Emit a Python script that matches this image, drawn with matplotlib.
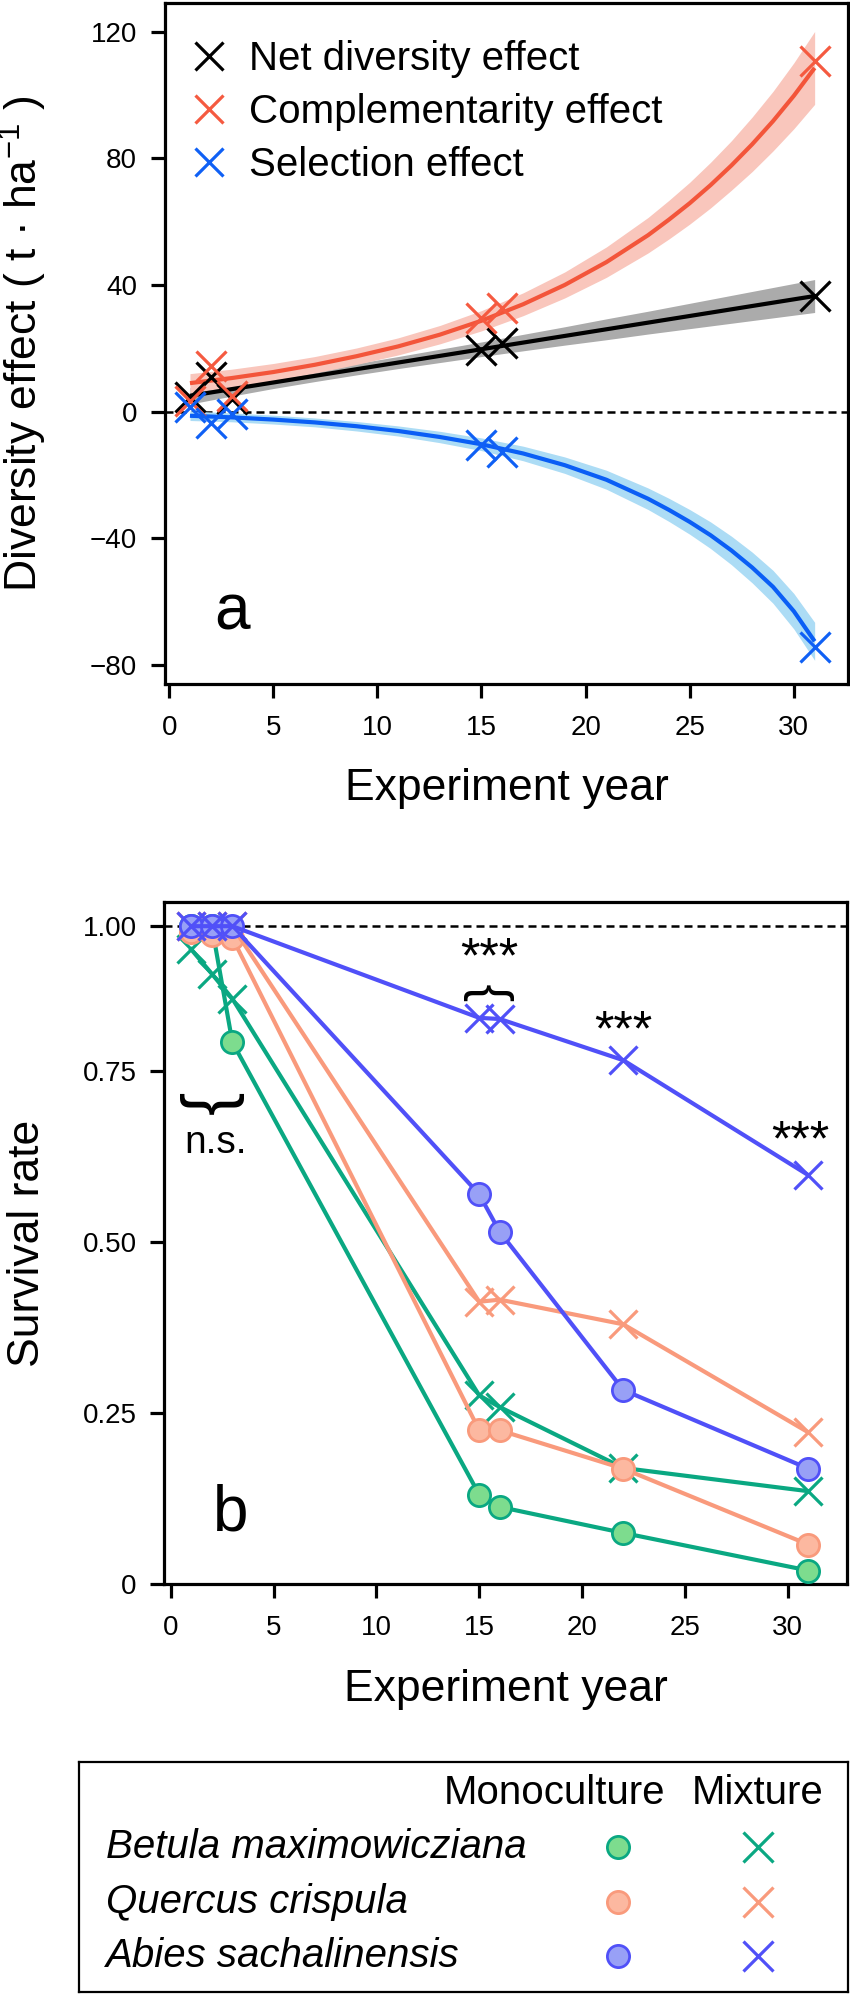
import numpy as np
import matplotlib.pyplot as plt
from matplotlib.lines import Line2D

plt.rcParams['font.family'] = ['Liberation Sans', 'DejaVu Sans']
plt.rcParams['mathtext.fontset'] = 'custom'
plt.rcParams['mathtext.rm'] = 'Liberation Sans'
plt.rcParams['mathtext.it'] = 'Liberation Sans:italic'

# ---- panel a: diversity effects (t/ha) ----
years_a = [1, 2, 3, 15, 16, 31]
net_pts = [4.5, 11.0, 4.0, 19.5, 21.6, 36.4]
comp_pts = [3.5, 14.5, 4.8, 29.5, 32.8, 110.7]
sel_pts = [1.5, -3.6, -0.9, -10.5, -12.7, -74.3]

# fitted curves and half-widths of the confidence bands
fit_years = [1, 3, 5, 7, 9, 11, 13, 15, 17, 19, 21, 23, 24, 25, 26, 27, 28, 29, 30, 31]
net_fit = [5.0, 7.1, 9.2, 11.3, 13.4, 15.5, 17.6, 19.7, 21.8, 23.9, 26.0, 28.1,
           29.15, 30.2, 31.25, 32.3, 33.35, 34.4, 35.45, 36.5]
net_half = [2.6, 2.2, 1.9, 1.8, 1.8, 1.9, 2.1, 2.3, 2.6, 2.9, 3.3, 3.6,
            3.8, 4.0, 4.2, 4.4, 4.6, 4.8, 5.0, 5.2]
comp_fit = [9.0, 10.6, 12.5, 14.8, 17.5, 20.6, 24.3, 28.7, 33.9, 40.0, 47.2, 55.7,
            60.6, 65.8, 71.5, 77.7, 84.4, 91.7, 99.7, 108.5]
comp_half = [3.0, 2.8, 2.7, 2.6, 2.6, 2.7, 2.9, 3.2, 3.6, 4.1, 4.8, 5.6,
             6.1, 6.6, 7.2, 7.8, 8.6, 9.4, 10.4, 11.5]
sel_fit = [-1.3, -1.8, -2.5, -3.4, -4.6, -6.1, -8.0, -10.3, -13.2, -16.9, -21.5, -27.5,
           -31.0, -34.8, -39.0, -43.8, -49.2, -55.3, -63.0, -72.5]
sel_half = [1.5, 1.4, 1.4, 1.4, 1.5, 1.6, 1.8, 2.0, 2.3, 2.6, 3.0, 3.4,
            3.65, 3.9, 4.2, 4.5, 4.85, 5.2, 5.6, 6.0]

effect_names = ['Net diversity effect', 'Complementarity effect', 'Selection effect']

# ---- panel b: survival rate ----
years_b = [1, 2, 3, 15, 16, 22, 31]
betula_mono = [1.0, 1.0, 0.80, 0.131, 0.113, 0.075, 0.020]
betula_mix = [0.96, 0.918, 0.875, 0.276, 0.259, 0.170, 0.136]
quercus_mono = [0.99, 0.985, 0.98, 0.225, 0.225, 0.169, 0.058]
quercus_mix = [1.0, 1.0, 1.0, 0.413, 0.416, 0.380, 0.222]
abies_mono = [1.0, 1.0, 1.0, 0.570, 0.515, 0.284, 0.169]
abies_mix = [1.0, 1.0, 1.0, 0.842, 0.840, 0.769, 0.598]

species = ['Betula maximowicziana', 'Quercus crispula', 'Abies sachalinensis']
line_cols = ['#0aa882', '#f99a7c', '#5050f8']
fill_cols = ['#7ddc8e', '#fcb8a0', '#98a0f6']

TICK = 20
LAB = 32
DASH = (0, (3.2, 2.0))

fig = plt.figure(figsize=(8.5, 19.95), dpi=100)


def style_axes(ax):
    for s in ax.spines.values():
        s.set_linewidth(2.3)
    ax.tick_params(direction='out', length=10, width=2.3, labelsize=TICK,
                   top=False, right=False)
    ax.tick_params(axis='x', pad=12)
    ax.tick_params(axis='y', pad=10)
    ax.set_xticks([0, 5, 10, 15, 20, 25, 30])


# ================= panel a =================
ax = fig.add_axes([0.1941, 0.6571, 0.8035, 0.3414])
style_axes(ax)
ax.axhline(0, color='black', lw=1.8, ls=DASH, zorder=1)

fy = np.array(fit_years)
bands = [(net_fit, net_half, '#ababab', 'black'),
         (comp_fit, comp_half, '#f9c6bc', '#f3553a'),
         (sel_fit, sel_half, '#acdcf5', '#0a5ef5')]
for fit, half, band_c, line_c in bands:
    fit = np.array(fit)
    half = np.array(half)
    ax.fill_between(fy, fit - half, fit + half, color=band_c, lw=0, zorder=2)
for fit, half, band_c, line_c in bands:
    ax.plot(fy, fit, color=line_c, lw=3.0, zorder=3, solid_capstyle='butt')

pt_cols = ['black', '#f55a40', '#0f60f5']
for vals, c in zip([net_pts, comp_pts, sel_pts], pt_cols):
    ax.plot(years_a, vals, ls='none', marker='x', ms=21, mew=2.3, color=c, zorder=4)

handles = [Line2D([], [], ls='none', marker='x', ms=20, mew=2.3, color=c) for c in pt_cols]
ax.legend(handles, effect_names, loc='upper left', bbox_to_anchor=(0.035, 0.945),
          frameon=False, fontsize=29, handlelength=1.0, handletextpad=0.5,
          labelspacing=0.37, borderpad=0, borderaxespad=0)

ax.text(3.0, -68.7, 'a', fontsize=46, ha='center', va='baseline')

ax.set_xlim(-0.2, 32.6)
ax.set_ylim(-86, 129)
ax.set_yticks([-80, -40, 0, 40, 80, 120])
ax.set_xlabel('Experiment year', fontsize=LAB, va='top')
ax.xaxis.set_label_coords(0.5, -0.123)
ax.set_ylabel('Diversity effect ( t · ha$^{-1}$ )', fontsize=LAB)
ax.yaxis.set_label_coords(-0.17, 0.5)

# ================= panel b =================
K = 0.848  # the 0.75-1.00 interval is drawn compressed in the original


def fwd(y):
    y = np.asarray(y, dtype=float)
    return np.where(y <= 0.75, y, 0.75 + (y - 0.75) * K)


def inv(z):
    z = np.asarray(z, dtype=float)
    return np.where(z <= 0.75, z, 0.75 + (z - 0.75) / K)


bx = fig.add_axes([0.1935, 0.2059, 0.8035, 0.3422])
bx.set_yscale('function', functions=(fwd, inv))
style_axes(bx)
bx.axhline(1.0, color='black', lw=1.8, ls=DASH, zorder=1)

monos = [betula_mono, quercus_mono, abies_mono]
mixes = [betula_mix, quercus_mix, abies_mix]
for mono, mix, lc, fc in zip(monos, mixes, line_cols, fill_cols):
    bx.plot(years_b, mono, color=lc, lw=3.0, marker='o', ms=16, mfc=fc,
            mec=lc, mew=2, zorder=3)
    bx.plot(years_b, mix, color=lc, lw=3.0, marker='x', ms=20, mew=2.3,
            zorder=3)

bx.text(15.5, 0.921, '***', fontsize=36, ha='center', va='baseline')
bx.text(15.5, 0.887, '}', fontsize=38, rotation=90, ha='center', va='center')
bx.text(22.0, 0.795, '***', fontsize=36, ha='center', va='baseline')
bx.text(30.6, 0.627, '***', fontsize=36, ha='center', va='baseline')
bx.text(2.0, 0.704, '{', fontsize=50, rotation=90, ha='center', va='center')
bx.text(2.18, 0.631, 'n.s.', fontsize=28, ha='center', va='baseline')
bx.text(2.9, 0.079, 'b', fontsize=46, ha='center', va='baseline')

bx.set_xlim(-0.3, 32.9)
bx.set_ylim(0, 1.0425)
bx.set_yticks([0, 0.25, 0.5, 0.75, 1.0])
bx.set_yticklabels(['0', '0.25', '0.50', '0.75', '1.00'])
bx.minorticks_off()
bx.set_xlabel('Experiment year', fontsize=LAB, va='top')
bx.xaxis.set_label_coords(0.5, -0.124)
bx.set_ylabel('Survival rate', fontsize=LAB)
bx.yaxis.set_label_coords(-0.17, 0.5)

# ================= legend box =================
lx = fig.add_axes([0.0929, 0.0015, 0.9047, 0.1153])
lx.set_xlim(0, 1)
lx.set_ylim(0, 1)
lx.set_xticks([])
lx.set_yticks([])
for s in lx.spines.values():
    s.set_linewidth(1.6)

lx.text(0.618, 0.865, 'Monoculture', fontsize=29, ha='center', va='center')
lx.text(0.882, 0.865, 'Mixture', fontsize=29, ha='center', va='center')
row_y = [0.630, 0.391, 0.157]
for name, y, lc, fc in zip(species, row_y, line_cols, fill_cols):
    lx.text(0.035, y, name, fontsize=29, style='italic', ha='left', va='center')
    lx.plot([0.701], [y], marker='o', ms=16, mfc=fc, mec=lc, mew=2, ls='none')
    lx.plot([0.883], [y], marker='x', ms=21, mew=2.3, color=lc, ls='none')

fig.savefig('out.png', dpi=100)
